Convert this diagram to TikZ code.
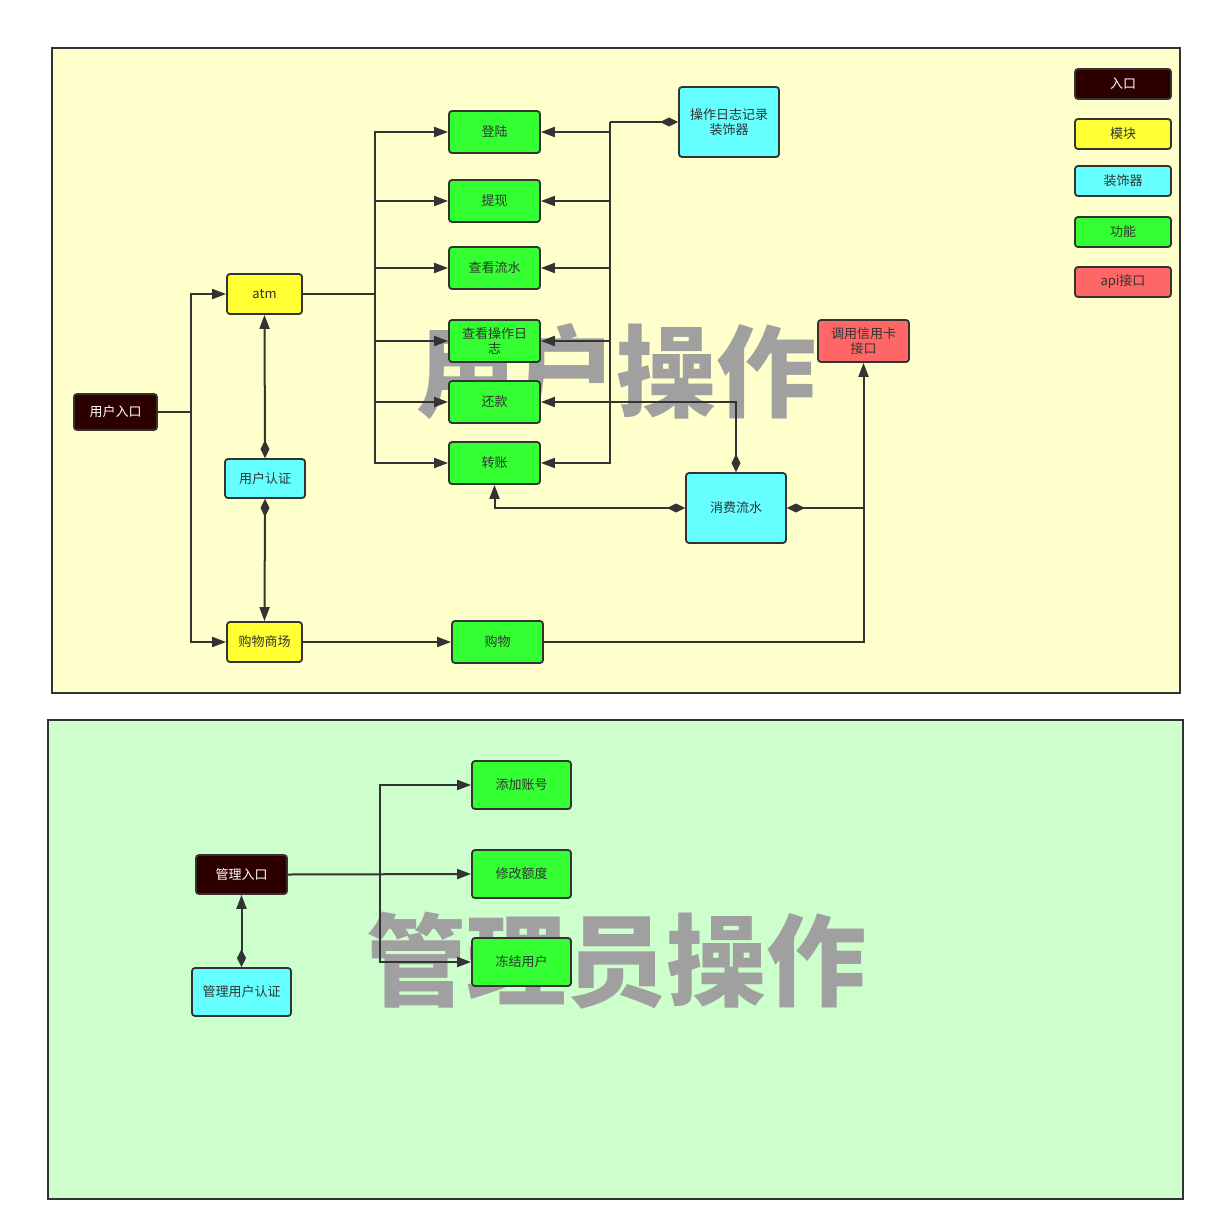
\documentclass[tikz,border=0pt]{standalone}
\usepackage{fontspec}
\setmainfont{Noto Sans CJK SC}
\usetikzlibrary{arrows.meta}
\definecolor{linec}{HTML}{333333}
\definecolor{userbg}{HTML}{FFFFCC}
\definecolor{adminbg}{HTML}{CCFFCC}
\definecolor{entryc}{HTML}{2D0000}
\definecolor{modc}{HTML}{FFFF33}
\definecolor{decoc}{HTML}{66FFFF}
\definecolor{funcc}{HTML}{33FF33}
\definecolor{apic}{HTML}{FF6666}
\definecolor{markc}{HTML}{A0A0A0}
\begin{document}
\begin{tikzpicture}[x=1pt, y=-1pt,
    box/.style ={draw=linec, line width=1.8pt, rounded corners=3pt, inner sep=0pt, align=center,
                 text=linec, font=\fontsize{13}{15}\selectfont},
    entry/.style ={box, fill=entryc, text=white},
    module/.style ={box, fill=modc, minimum width=75pt, minimum height=40pt},
    deco/.style ={box, fill=decoc},
    func/.style ={box, fill=funcc, minimum width=91pt, minimum height=42pt},
    api/.style ={box, fill=apic, minimum width=91pt, minimum height=42pt},
    legend/.style ={box, minimum width=96pt, minimum height=30pt},
    watermark/.style ={text=markc, font=\fontsize{100}{100}\selectfont\bfseries},
    link/.style ={draw=linec, line width=2pt},
    arr/.style ={link, -{Triangle[length=14pt, width=10pt]}},
    dia/.style ={link, {Diamond[length=18pt, width=9pt]}-{Triangle[length=14pt, width=10pt]}}]
   \useasboundingbox (0,0) rectangle (1215,1231);
   \fill[white] (0,0) rectangle (1215,1231);
   \draw[linec, line width=1.8pt, fill=userbg] (52,48) rectangle (1180,693);
   \draw[linec, line width=1.8pt, fill=adminbg] (48,720) rectangle (1183,1199);
   \node[watermark] (W1) at (616,372) {用户操作};
   \node[watermark] (W2) at (616,961) {管理员操作};

   \node[entry, minimum width=83pt, minimum height=36pt] (user) at (115.5,412) {用户入口};
   \node[module] (atm) at (264.5,294) {atm};
   \node[deco, minimum width=80pt, minimum height=39pt] (auth) at (265,478.5) {用户认证};
   \node[module] (mall) at (264.5,642) {购物商场};
   \node[func] (login) at (494.5,132) {登陆};
   \node[func] (cash) at (494.5,201) {提现};
   \node[func] (flow) at (494.5,268) {查看流水};
   \node[func] (oplog) at (494.5,341) {查看操作日\\志};
   \node[func] (repay) at (494.5,402) {还款};
   \node[func] (transfer) at (494.5,463) {转账};
   \node[deco, minimum width=100pt, minimum height=70pt] (logdeco) at (729,122) {操作日志记录\\装饰器};
   \node[deco, minimum width=100pt, minimum height=70pt] (spend) at (736,508) {消费流水};
   \node[api] (credit) at (863.5,341) {调用信用卡\\接口};
   \node[func] (shop) at (497.5,642) {购物};

   \node[legend, fill=entryc, text=white] (L1) at (1123,84) {入口};
   \node[legend, fill=modc] (L2) at (1123,134) {模块};
   \node[legend, fill=decoc] (L3) at (1123,181) {装饰器};
   \node[legend, fill=funcc] (L4) at (1123,232) {功能};
   \node[legend, fill=apic] (L5) at (1123,282) {api接口};

   \coordinate (uj) at (191,412);
   \draw[link] (user.east) -- (uj);
   \draw[arr] (uj) |- (atm.west);
   \draw[arr] (uj) |- (mall.west);
   \draw[dia] (auth.north) -- (atm.south);
   \draw[dia] (auth.south) -- (mall.north);

   \coordinate (aj) at (375,294);
   \draw[link] (atm.east) -- (aj);
   \foreach \f in {login,cash,flow,oplog,repay,transfer}
      \draw[arr] (aj) |- (\f.west);

   \coordinate (dj) at (610,122);
   \draw[link, -{Diamond[length=18pt, width=9pt]}] (dj) -- (logdeco.west);
   \foreach \f in {login,cash,flow,oplog,transfer}
      \draw[arr] (dj) |- (\f.east);

   \draw[dia] (spend.north) |- (repay.east);
   \draw[dia] (spend.west) -| (transfer.south);
   \draw[dia] (spend.east) -| (credit.south);
   \coordinate (sj) at (credit.south |- spend.east);
   \draw[link] (shop.east) -| (sj);
   \draw[arr] (mall.east) -- (shop.west);

   \node[entry, minimum width=91pt, minimum height=39pt] (admin) at (241.5,874.5) {管理入口};
   \node[deco, minimum width=99pt, minimum height=48pt] (adminauth) at (241.5,992) {管理用户认证};
   \node[func, minimum width=99pt, minimum height=48pt] (add) at (521.5,785) {添加账号};
   \node[func, minimum width=99pt, minimum height=48pt] (quota) at (521.5,874) {修改额度};
   \node[func, minimum width=99pt, minimum height=48pt] (freeze) at (521.5,962) {冻结用户};

   \draw[arr] (admin.east) -- (quota.west);
   \coordinate (mj) at (380,874);
   \draw[arr] (mj) |- (add.west);
   \draw[arr] (mj) |- (freeze.west);
   \draw[dia] (adminauth.north) -- (admin.south);
\end{tikzpicture}
\end{document}
